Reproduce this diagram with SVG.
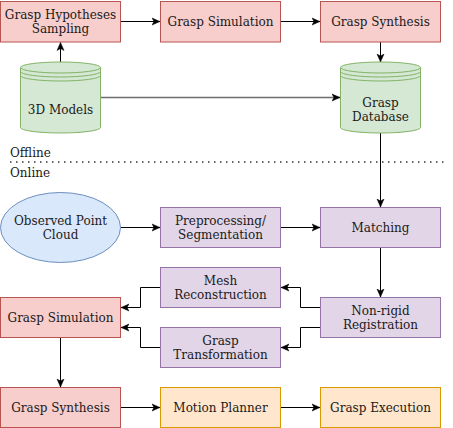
<svg xmlns="http://www.w3.org/2000/svg" width="453" height="428" viewBox="0 0 453 428">
<style>
  text { font-family: "DejaVu Serif", "Liberation Serif", serif; font-size: 12px; fill: #1a1a1a; text-anchor: middle; }
  .lbl { text-anchor: start; }
  .red { fill: #f8cecc; stroke: #b85450; stroke-width: 1; }
  .green { fill: #d5e8d4; stroke: #82b366; stroke-width: 1; }
  .blue { fill: #dae8fc; stroke: #6c8ebf; stroke-width: 1; }
  .purple { fill: #e1d5e7; stroke: #9673a6; stroke-width: 1; }
  .orange { fill: #ffe6cc; stroke: #d79b00; stroke-width: 1; }
  .edge { fill: none; stroke: #000; stroke-width: 1; marker-end: url(#arrow); }
  .gray { stroke: #6e6e6e; stroke-width: 1.5; }
</style>
<defs>
  <marker id="arrow" markerUnits="userSpaceOnUse" markerWidth="10" markerHeight="10" viewBox="0 -5 10 10" refX="8" refY="0" orient="auto">
    <path d="M0,-3.5 L8,0 L0,3.5 L2,0 Z" fill="#000" stroke="#000" stroke-width="0.5"/>
  </marker>
</defs>
<rect width="453" height="428" fill="#fff"/>

<g id="connectors">
  <path class="edge" d="M120.5,21.5 H160"/>
  <path class="edge" d="M280.5,21.5 H320"/>
  <path class="edge" d="M60.5,62 V42.5"/>
  <path class="edge" d="M380.5,42 V62"/>
  <path class="edge gray" d="M100.5,97.5 H340"/>
  <path class="edge" d="M380.5,133 V207"/>
  <path class="edge" d="M120.5,227.5 H160"/>
  <path class="edge" d="M280.5,227.5 H320"/>
  <path class="edge" d="M380.5,247.5 V297"/>
  <path class="edge" d="M320,307.5 H300.5 V287.5 H281"/>
  <path class="edge" d="M320,327.5 H300.5 V347.5 H281"/>
  <path class="edge" d="M160,287.5 H140.5 V307.5 H121"/>
  <path class="edge" d="M160,347.5 H140.5 V327.5 H121"/>
  <path class="edge" d="M60.5,337.5 V387"/>
  <path class="edge" d="M120.5,407.5 H160"/>
  <path class="edge" d="M280.5,407.5 H320"/>
</g>

<g id="divider">
  <text class="lbl" x="10" y="157">Offline</text>
  <line x1="10" y1="162" x2="447" y2="162" stroke="#333" stroke-width="1.5" stroke-dasharray="1.5 4.5"/>
  <text class="lbl" x="10" y="177">Online</text>
</g>

<g id="grasp-hypotheses-sampling">
  <rect class="red" x="0.5" y="1.5" width="120" height="40.5"/>
  <text x="60.5" y="18.5">Grasp Hypotheses</text>
  <text x="60.5" y="32.5">Sampling</text>
</g>
<g id="grasp-simulation-offline">
  <rect class="red" x="160.5" y="1.5" width="120" height="40.5"/>
  <text x="220.5" y="26">Grasp Simulation</text>
</g>
<g id="grasp-synthesis-offline">
  <rect class="red" x="320.5" y="1.5" width="120" height="40.5"/>
  <text x="380.5" y="26">Grasp Synthesis</text>
</g>
<g id="models-3d">
  <path class="green" d="M20.5,67.5 A40,5.5 0 0 1 100.5,67.5 L100.5,127.5 A40,5.5 0 0 1 20.5,127.5 Z"/>
  <path class="green" fill="none" d="M20.5,67.5 A40,5.5 0 0 0 100.5,67.5 M20.5,71.5 A40,5.5 0 0 0 100.5,71.5 M20.5,75.5 A40,5.5 0 0 0 100.5,75.5" style="fill:none"/>
  <text x="60.5" y="113.5">3D Models</text>
</g>
<g id="grasp-database">
  <path class="green" d="M340.5,67.5 A40,5.5 0 0 1 420.5,67.5 L420.5,127.5 A40,5.5 0 0 1 340.5,127.5 Z"/>
  <path class="green" d="M340.5,67.5 A40,5.5 0 0 0 420.5,67.5 M340.5,71.5 A40,5.5 0 0 0 420.5,71.5 M340.5,75.5 A40,5.5 0 0 0 420.5,75.5" style="fill:none"/>
  <text x="380.5" y="107">Grasp</text>
  <text x="380.5" y="121">Database</text>
</g>

<g id="observed-point-cloud">
  <ellipse class="blue" cx="60.5" cy="227.5" rx="60" ry="35"/>
  <text x="60.5" y="224.5">Observed Point</text>
  <text x="60.5" y="238.5">Cloud</text>
</g>
<g id="preprocessing">
  <rect class="purple" x="160.5" y="207.5" width="120" height="40"/>
  <text x="220.5" y="224.5">Preprocessing/</text>
  <text x="220.5" y="238.5">Segmentation</text>
</g>
<g id="matching">
  <rect class="purple" x="320.5" y="207.5" width="120" height="40"/>
  <text x="380.5" y="232">Matching</text>
</g>
<g id="mesh-reconstruction">
  <rect class="purple" x="160.5" y="267.5" width="120" height="40"/>
  <text x="220.5" y="284.5">Mesh</text>
  <text x="220.5" y="298.5">Reconstruction</text>
</g>
<g id="non-rigid-registration">
  <rect class="purple" x="320.5" y="297.5" width="120" height="40"/>
  <text x="380.5" y="314.5">Non-rigid</text>
  <text x="380.5" y="328.5">Registration</text>
</g>
<g id="grasp-transformation">
  <rect class="purple" x="160.5" y="327.5" width="120" height="40"/>
  <text x="220.5" y="344.5">Grasp</text>
  <text x="220.5" y="358.5">Transformation</text>
</g>
<g id="grasp-simulation-online">
  <rect class="red" x="0.5" y="297.5" width="120" height="40"/>
  <text x="60.5" y="322">Grasp Simulation</text>
</g>
<g id="grasp-synthesis-online">
  <rect class="red" x="0.5" y="387.5" width="120" height="40"/>
  <text x="60.5" y="412">Grasp Synthesis</text>
</g>
<g id="motion-planner">
  <rect class="orange" x="160.5" y="387.5" width="120" height="40"/>
  <text x="220.5" y="412">Motion Planner</text>
</g>
<g id="grasp-execution">
  <rect class="orange" x="320.5" y="387.5" width="120" height="40"/>
  <text x="380.5" y="412">Grasp Execution</text>
</g>
</svg>
